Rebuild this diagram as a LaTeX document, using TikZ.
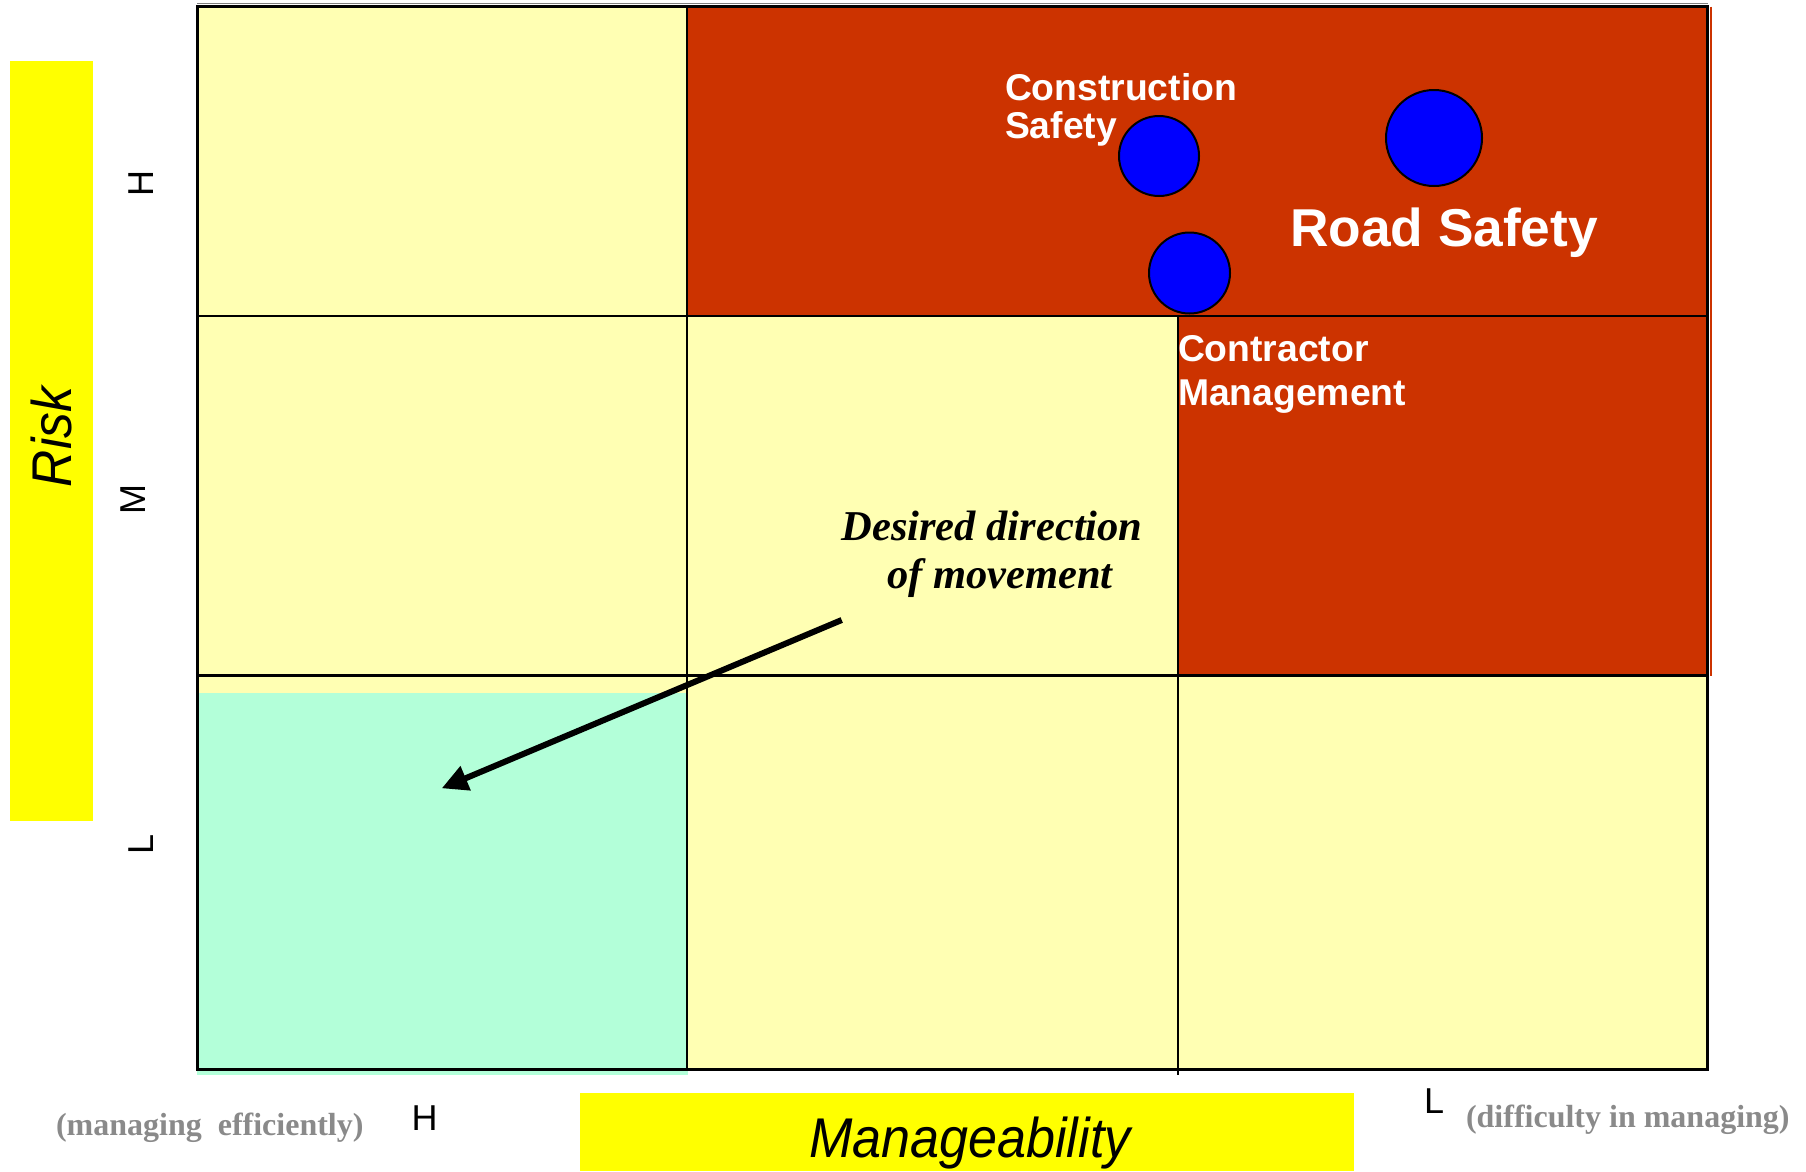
\documentclass[tikz,border=0pt]{standalone}
\usepackage{fontspec}
\setmainfont{Liberation Serif}
\newfontfamily\arialf{Liberation Sans}
\usetikzlibrary{arrows.meta}
\definecolor{cellyellow}{RGB}{255,255,179}
\definecolor{cellred}{RGB}{204,51,0}
\definecolor{cellcyan}{RGB}{179,255,217}
\definecolor{baryellow}{RGB}{255,255,0}
\definecolor{dotblue}{RGB}{0,0,255}
\definecolor{notegray}{RGB}{138,138,138}
\tikzset{
  gridline/.style={draw=black,line width=2.3pt},
  dot/.style={circle,draw=black,line width=2pt,fill=dotblue,inner sep=0pt},
  lbl/.style={inner sep=0pt,outer sep=0pt},
  axisletter/.style={lbl,font=\arialf\fontsize{36}{40}\selectfont},
  whitelbl/.style={lbl,text=white,font=\arialf\bfseries\fontsize{37.3}{40}\selectfont},
  notelbl/.style={lbl,text=notegray,font=\bfseries\fontsize{32}{34}\selectfont},
  axistitle/.style={lbl,font=\arialf\itshape\fontsize{56}{60}\selectfont},
  movelbl/.style={lbl,font=\bfseries\itshape\fontsize{42.5}{44}\selectfont},
}
\begin{document}
\begin{tikzpicture}[x=1pt,y=-1pt]
\useasboundingbox (0,0) rectangle (1806,1171);
% cell fills
\fill[cellyellow] (197,6.5) rectangle (1707.5,1069);
\fill[cellred] (687,6.5) rectangle (1707.5,316);
\fill[cellred] (1178,316) rectangle (1707.5,675.5);
\fill[cellcyan] (197,693) rectangle (688,1075);
\draw[cellred,line width=1.5pt] (1711,6.5) -- (1711,675.5);
% grid lines
\draw[gray,line width=1pt] (197,3.5) -- (1707.5,3.5);
\draw[gridline] (687,6.5) -- (687,1069);
\draw[gridline] (1178,316) -- (1178,1074.5);
\draw[gridline] (197,316) -- (1707.5,316);
\draw[gridline] (197,675.5) -- (1707.5,675.5);
\draw[draw=black,line width=3pt] (197,6.5) rectangle (1707.5,1069);
% axis bars
\fill[baryellow] (10.4,60.8) rectangle (93.3,821);
\fill[baryellow] (580,1093.3) rectangle (1354,1171);
\node[axistitle,rotate=90,anchor=base] (risk) at (71.5,437) {\scalebox{0.92}[1]{Risk}};
\node[axistitle,anchor=base] (manage) at (970,1157) {\scalebox{0.93}[1]{Manageability}};
% axis letters
\node[axisletter,rotate=90,anchor=base] (rH) at (153,183) {H};
\node[axisletter,rotate=90,anchor=base] (rM) at (145,499.5) {M};
\node[axisletter,rotate=90,anchor=base] (rL) at (153,844) {L};
\node[axisletter,anchor=base] (mH) at (424.5,1130.5) {H};
\node[axisletter,anchor=base west] (mL) at (1424,1113) {L};
\node[notelbl,anchor=base west] (eff) at (56,1135) {(managing\ \ efficiently)};
\node[notelbl,anchor=base west] (diff) at (1466,1127) {(difficulty in managing)};
% dots
\node[dot,minimum size=80pt] (cs) at (1159,156) {};
\node[dot,minimum size=96pt] (rs) at (1434,138) {};
\node[dot,minimum size=81pt] (cm) at (1189.5,273) {};
% dot labels
\node[whitelbl,anchor=base west] (cs1) at (1005,100.7) {Construction};
\node[whitelbl,anchor=base west] (cs2) at (1005,138.8) {Safety};
\node[whitelbl,anchor=base west] (cm1) at (1178,361) {Contractor};
\node[whitelbl,anchor=base west] (cm2) at (1178,405.5) {Management};
\node[lbl,text=white,font=\arialf\bfseries\fontsize{53.3}{58}\selectfont,anchor=base west] (rsl) at (1290,246) {Road Safety};
% desired direction
\node[movelbl,anchor=base] (dd1) at (992,540) {Desired direction};
\node[movelbl,anchor=base] (dd2) at (1000,588.3) {of movement};
\coordinate (arrS) at (841.7,620);
\coordinate (arrE) at (441.7,788.3);
\draw[line width=6pt,-{Triangle[length=26pt,width=25pt]}] (arrS) -- (arrE);
\end{tikzpicture}
\end{document}
